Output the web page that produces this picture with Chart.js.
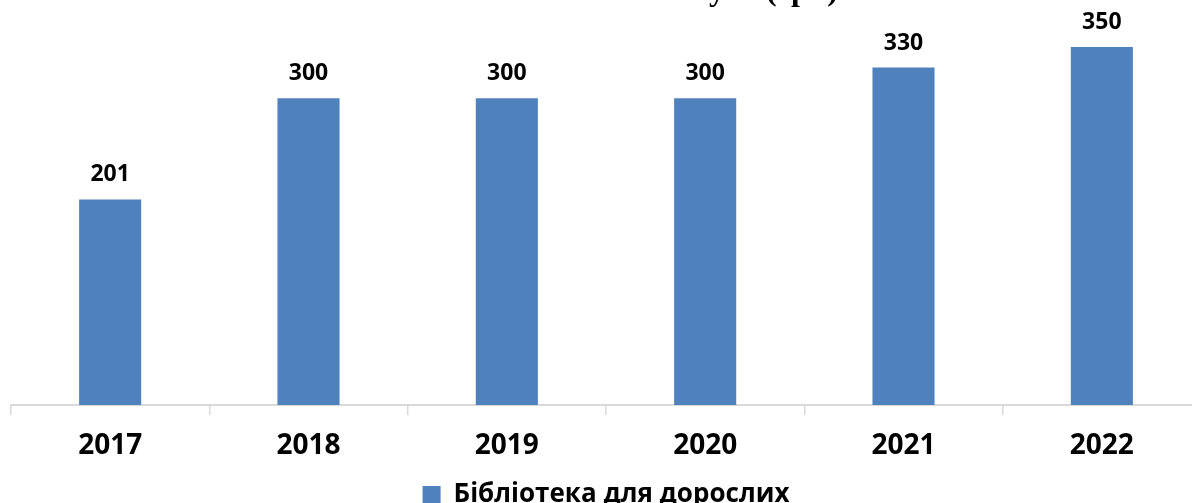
<!DOCTYPE html>
<html>
<head>
<meta charset="utf-8">
<script src="https://cdn.jsdelivr.net/npm/chart.js@4/dist/chart.umd.min.js"></script>
<style>
	html, body { margin: 0; padding: 0; background: #fff; overflow: hidden; }
	#wrap { position: absolute; left: 0; top: 0; width: 1212px; height: 518px; }
</style>
</head>
<body>
<div id="wrap"><canvas id="libChart" width="1212" height="518"></canvas></div>
<script>
// Дані діаграми
var years = ['2017', '2018', '2019', '2020', '2021', '2022'];
var seriesName = 'Бібліотека для дорослих';
var seriesValues = [201, 300, 300, 300, 330, 350];
var chartTitle = 'Платні послуги (грн)';

var barColor = '#4f81bd';

//Підписи значень над стовпчиками
var valueLabels = {
	id: 'valueLabels',
	afterDatasetsDraw: function(chart) {
		var ctx = chart.ctx;
		var meta = chart.getDatasetMeta(0);
		ctx.save();
		ctx.font = 'bold 23px "Open Sans"';
		ctx.fillStyle = '#000';
		ctx.textAlign = 'center';
		ctx.textBaseline = 'alphabetic';
		meta.data.forEach(function(bar, i) {
			ctx.fillText(chart.data.datasets[0].data[i], bar.x, bar.y - 18);
		});
		ctx.restore();
	}
};

//Заголовок, обрізаний верхнім краєм
var topTitle = {
	id: 'topTitle',
	afterDraw: function(chart) {
		var ctx = chart.ctx;
		ctx.save();
		ctx.font = 'bold 32px "Liberation Serif"';
		ctx.fillStyle = '#000';
		ctx.textAlign = 'right';
		ctx.textBaseline = 'alphabetic';
		ctx.fillText(chartTitle, 838, 0);
		ctx.restore();
	}
};

var ctx = document.getElementById('libChart').getContext('2d');
var chart = new Chart(ctx, {
	type: 'bar',
	data: {
		labels: years,
		datasets: [{
			label: seriesName,
			data: seriesValues,
			backgroundColor: barColor,
			borderWidth: 0,
			barPercentage: 1,
			categoryPercentage: 0.313
		}]
	},
	options: {
		responsive: false,
		animation: false,
		layout: { padding: { left: 11, right: 11, top: 0, bottom: 0 } },
		plugins: {
			title: { display: false },
			tooltip: { enabled: false },
			legend: {
				position: 'bottom',
				labels: {
					boxWidth: 18,
					boxHeight: 18,
					padding: 10,
					color: '#000',
					font: { family: 'Open Sans', size: 26, weight: 'bold' }
				}
			}
		},
		scales: {
			x: {
				offset: true,
				grid: {
					drawOnChartArea: false,
					drawTicks: true,
					tickLength: 10,
					color: '#d9d9d9',
					lineWidth: 1.5,
					offset: true
				},
				border: { display: true, color: '#d9d9d9', width: 2 },
				ticks: {
					color: '#000',
					padding: 14,
					maxRotation: 0,
					autoSkip: false,
					font: { family: 'Open Sans', size: 28, weight: 'bold' }
				},
				afterFit: function(scale) {
					scale.height = 67;
				}
			},
			y: {
				display: false,
				min: 0,
				max: 396
			}
		}
	},
	plugins: [valueLabels, topTitle]
});
</script>
</body>
</html>
